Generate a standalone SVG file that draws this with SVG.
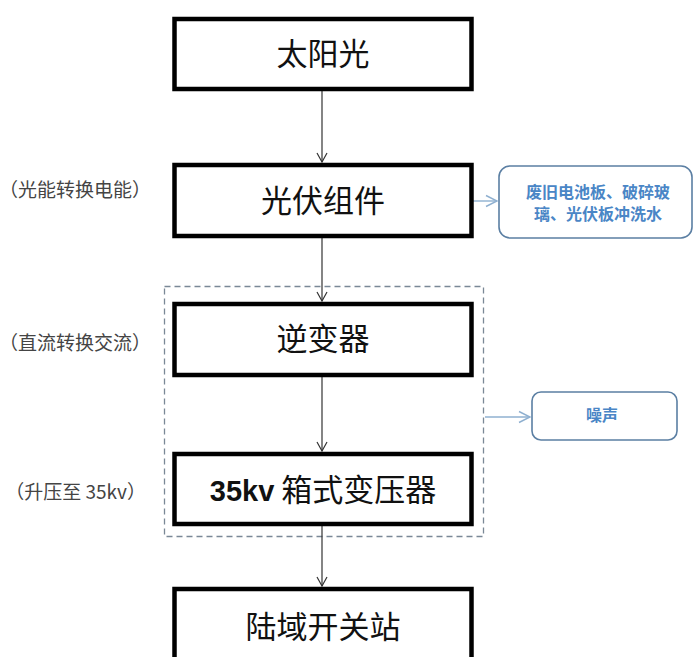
<svg xmlns="http://www.w3.org/2000/svg" width="694" height="657" viewBox="0 0 694 657">
<style>
.box{fill:#fff;stroke:#000;stroke-width:4.5}
.bt{font-family:"Noto Sans CJK SC","Noto Sans",sans-serif;font-size:31px;fill:#111;text-anchor:middle}
.lbl{font-family:"Noto Sans CJK SC","Noto Sans",sans-serif;font-size:19px;fill:#444;text-anchor:end}
.rb{fill:#fff;stroke:#5b7fa3;stroke-width:1.6}
.rt{font-family:"Noto Sans CJK SC","Noto Sans",sans-serif;font-size:16px;font-weight:bold;fill:#4a86c6;text-anchor:middle}
.c{stroke:#333;stroke-width:1.2;fill:none}
.cb{stroke:#8fb0d0;stroke-width:1.4;fill:none}
</style>
<defs>
<marker id="ah" markerWidth="12" markerHeight="12" refX="10" refY="6" orient="auto" markerUnits="userSpaceOnUse">
<path d="M1,1 L10,6 L1,11" fill="none" stroke="#333" stroke-width="1.2"/>
</marker>
<marker id="ahb" markerWidth="14" markerHeight="14" refX="12" refY="7" orient="auto" markerUnits="userSpaceOnUse">
<path d="M1,1.5 L12,7 L1,12.5" fill="none" stroke="#8fb0d0" stroke-width="1.4"/>
</marker>
</defs>
<rect width="694" height="657" fill="#fff"/>
<g id="group-dashed">
<rect x="164.5" y="286.5" width="319" height="250" fill="none" stroke="#7a8896" stroke-width="1.3" stroke-dasharray="6,4"/>
</g>
<g id="connectors">
<line class="c" x1="322" y1="91" x2="322" y2="162" marker-end="url(#ah)"/>
<line class="c" x1="322" y1="238" x2="322" y2="301" marker-end="url(#ah)"/>
<line class="c" x1="322" y1="377" x2="322" y2="451" marker-end="url(#ah)"/>
<line class="c" x1="322" y1="526" x2="322" y2="586" marker-end="url(#ah)"/>
<line class="cb" x1="473" y1="201" x2="497" y2="201" marker-end="url(#ahb)"/>
<line class="cb" x1="485" y1="417" x2="530" y2="417" marker-end="url(#ahb)"/>
</g>
<g id="n-sun">
<rect class="box" x="174.5" y="19" width="297" height="70"/>
<text class="bt" x="323" y="65">太阳光</text>
</g>
<g id="n-pv">
<rect class="box" x="174.5" y="165" width="297" height="71"/>
<text class="bt" x="323" y="212">光伏组件</text>
<text class="lbl" x="151" y="197">（光能转换电能）</text>
</g>
<g id="n-waste">
<rect class="rb" x="499" y="166" width="193" height="72" rx="11"/>
<text class="rt" x="598" y="198">废旧电池板、破碎玻</text>
<text class="rt" x="598" y="220">璃、光伏板冲洗水</text>
</g>
<g id="n-inverter">
<rect class="box" x="174.5" y="304" width="297" height="71"/>
<text class="bt" x="323" y="350">逆变器</text>
<text class="lbl" x="151" y="350">（直流转换交流）</text>
</g>
<g id="n-noise">
<rect class="rb" x="532" y="392" width="145" height="48" rx="9"/>
<text class="rt" x="602" y="421" font-size="14">噪声</text>
</g>
<g id="n-transformer">
<rect class="box" x="174.5" y="454" width="297" height="70"/>
<text class="bt" x="323" y="501"><tspan font-family="Liberation Sans, sans-serif" font-weight="bold" font-size="29">35kv</tspan> 箱式变压器</text>
<text class="lbl" x="146" y="499">（升压至 35kv）</text>
</g>
<g id="n-station">
<rect class="box" x="174.5" y="589" width="297" height="80"/>
<text class="bt" x="323" y="638">陆域开关站</text>
</g>
</svg>
